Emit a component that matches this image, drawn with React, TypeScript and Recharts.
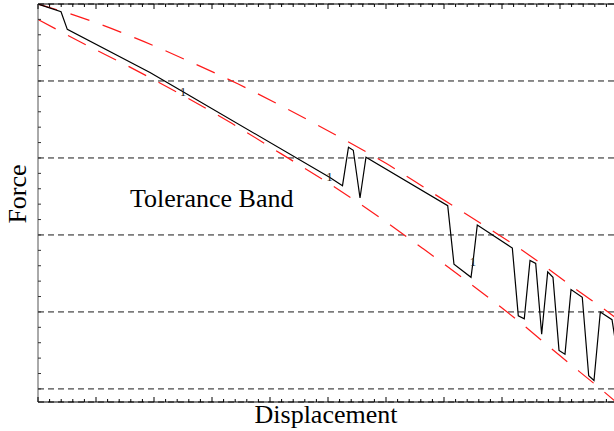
import React from "react";
import { LineChart, Line, XAxis, YAxis, CartesianGrid, Customized } from "recharts";

// measured force curve (displacement 0..10, force units)
const forceX = [0, 0.397, 0.505, 1.931, 2.5, 5.026, 5.25, 5.353, 5.436, 5.552, 5.655, 7.064, 7.172, 7.466, 7.5, 7.574, 8.178, 8.281, 8.384, 8.483, 8.581, 8.684, 8.788, 8.879, 8.983, 9.086, 9.19, 9.384, 9.495, 9.586, 9.695, 9.897, 10];
const forceY = [500, 490, 467, 411, 386, 275, 264, 314, 310, 248, 301, 238, 162, 145, 165, 213, 183, 95, 91, 167, 163, 71, 152, 145, 50, 45, 129, 119, 17, 11, 100, 90, 40];
const markedX = [2.5, 5.026, 7.5];

// tolerance band
const upperX = [0, 0.724, 1.672, 2.534, 3.453, 4.288, 5.178, 6.0, 6.816, 7.638, 8.483, 9.247, 9.931, 10];
const upperY = [500, 483, 456, 428, 396, 364, 328, 293, 254, 215, 173, 131, 94, 90];
const lowerX = [0, 0.724, 1.586, 2.5, 3.34, 4.202, 5.034, 5.867, 6.643, 7.466, 8.236, 9.017, 9.764, 10];
const lowerY = [480, 451, 418, 381, 345, 305, 266, 224, 182, 136, 91, 42, -4, -19];

const gridY = [0, 100, 200, 300, 400];
const minorX = Array.from({ length: 51 }, (_, i) => i * 0.2);
const minorY = Array.from({ length: 25 }, (_, i) => i * 20);

const forceData = forceX.map((x, i) => ({ x, y: forceY[i], mark: markedX.includes(x) }));
const upperData = upperX.map((x, i) => ({ x, y: upperY[i] }));
const lowerData = lowerX.map((x, i) => ({ x, y: lowerY[i] }));

const serif = "'Liberation Serif', 'Times New Roman', serif";

const isMajor = (v: number) => Math.abs(v - Math.round(v)) < 1e-6;

// ticks drawn inward from the axis line
const bottomTick = (p: any) => (
  <line x1={p.x} x2={p.x} y1={p.y} y2={p.y - (isMajor(p.payload.value) ? 5 : 3)} stroke="#000" />
);
const topTick = (p: any) => (
  <line x1={p.x} x2={p.x} y1={p.y} y2={p.y + (isMajor(p.payload.value) ? 5 : 3)} stroke="#000" />
);
const leftTick = (p: any) => <line x1={p.x} x2={p.x + 3} y1={p.y} y2={p.y} stroke="#333" />;

const markDot = (p: any) => {
  const { cx, cy, payload, index } = p;
  if (!payload || !payload.mark) return <g key={"d" + index} />;
  return (
    <text key={"d" + index} x={cx} y={cy + 4} textAnchor="middle" fontSize={13} fontFamily={serif} fill="#222">
      1
    </text>
  );
};

const Labels = () => (
  <g fontFamily={serif} fill="#000">
    <text x={130} y={207} fontSize={26}>Tolerance Band</text>
    <text x={326} y={423} fontSize={26} textAnchor="middle">Displacement</text>
    <text x={26} y={194} fontSize={26} textAnchor="middle" transform="rotate(-90 26 194)">Force</text>
  </g>
);

const xCommon = {
  type: "number" as const,
  dataKey: "x",
  domain: [0, 10],
  allowDataOverflow: true,
  height: 1,
  ticks: minorX,
  interval: 0,
  tickSize: 0,
  tickMargin: 0,
  tickLine: false,
};

const App = () => (
  <div style={{ position: "absolute", left: 0, top: 0, width: 614, height: 431, overflow: "hidden", background: "#fff" }}>
    <LineChart width={620} height={431} margin={{ top: 3, right: 2, bottom: 28, left: 37 }}>
      <CartesianGrid yAxisId="grid" vertical={false} stroke="#1a1a1a" strokeDasharray="6 4" />
      <XAxis xAxisId={0} {...xCommon} tick={bottomTick} axisLine={{ stroke: "#000" }} />
      <XAxis xAxisId="top" orientation="top" {...xCommon} tick={topTick} axisLine={{ stroke: "#000" }} />
      <YAxis
        yAxisId={0}
        type="number"
        domain={[-17, 500]}
        allowDataOverflow
        width={1}
        ticks={minorY}
        interval={0}
        tickSize={0}
        tickMargin={0}
        tickLine={false}
        tick={leftTick}
        axisLine={{ stroke: "#555" }}
      />
      <YAxis yAxisId="grid" orientation="right" hide type="number" domain={[-17, 500]} allowDataOverflow ticks={gridY} />
      <Line data={upperData} dataKey="y" type="monotone" stroke="#ff1a1a" strokeWidth={1.2} strokeDasharray="20 14" dot={false} activeDot={false} isAnimationActive={false} />
      <Line data={lowerData} dataKey="y" type="monotone" stroke="#ff1a1a" strokeWidth={1.2} strokeDasharray="20 14" dot={false} activeDot={false} isAnimationActive={false} />
      <Line data={forceData} dataKey="y" type="linear" stroke="#000" strokeWidth={1.2} dot={markDot} activeDot={false} isAnimationActive={false} />
      <Customized component={Labels} />
    </LineChart>
  </div>
);

export default App;
